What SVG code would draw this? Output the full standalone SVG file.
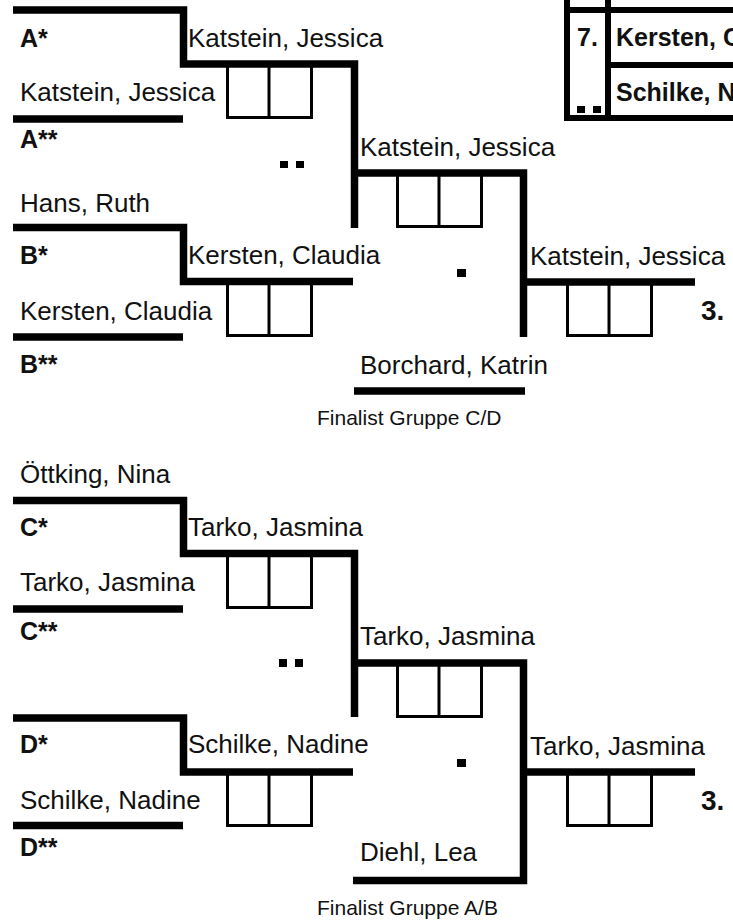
<svg xmlns="http://www.w3.org/2000/svg" xmlns:xlink="http://www.w3.org/1999/xlink" width="733" height="920" viewBox="0 0 733 920">
<style>
  .ln { fill: none; stroke: #000; stroke-width: 7.5; stroke-linecap: butt; stroke-linejoin: miter; }
  .tb { fill: none; stroke: #000; stroke-width: 6; }
  .bx { fill: none; stroke: #000; stroke-width: 3; }
  .nm { font-family: "Liberation Sans", Arial, sans-serif; font-size: 26px; fill: #111; }
  .lb { font-family: "Liberation Sans", Arial, sans-serif; font-size: 25px; font-weight: bold; fill: #111; }
  .pl { font-family: "Liberation Sans", Arial, sans-serif; font-size: 28px; font-weight: bold; fill: #111; }
  .sm { font-family: "Liberation Sans", Arial, sans-serif; font-size: 21px; fill: #111; }
  .dt { fill: #000; }
</style>
<defs>
  <g id="score">
    <rect class="bx" x="1.5" y="-4" width="84" height="53.5"/>
    <line class="bx" x1="43" y1="-4" x2="43" y2="51"/>
  </g>
</defs>
<rect width="733" height="920" fill="#fff"/>

<g id="connectors">
  <path class="ln" d="M13,10 H183.5 V64 H354.5 V228"/>
  <path class="ln" d="M13,119 H183"/>
  <path class="ln" d="M13,227.5 H183.5 V281.5 H353"/>
  <path class="ln" d="M13,337 H183"/>
  <path class="ln" d="M354.5,173 H523.5 V337"/>
  <path class="ln" d="M523.5,282 H695"/>
  <path class="ln" d="M354,391 H525"/>
  <path class="ln" d="M13,500.5 H183.5 V553.5 H354.5 V717"/>
  <path class="ln" d="M13,609 H183"/>
  <path class="ln" d="M13,718 H183.5 V772 H353"/>
  <path class="ln" d="M13,825.5 H183"/>
  <path class="ln" d="M354.5,663 H523.5 V880.5 H353"/>
  <path class="ln" d="M523.5,772 H695"/>
</g>

<g id="table">
  <path class="tb" d="M567,0 V121 M608,0 V121 M564,10 H740 M608,65 H740 M564,118 H740"/>
  <text class="lb" x="577" y="46">7.</text>
  <text class="lb" x="616" y="46">Kersten, Claudia</text>
  <text class="lb" x="616" y="101">Schilke, Nadine</text>
  <rect class="dt" x="577" y="106" width="8" height="7"/>
  <rect class="dt" x="593" y="106" width="8" height="7"/>
</g>

<g id="groupA">
  <text class="lb" x="20" y="47">A*</text>
  <text class="nm" x="20" y="101">Katstein, Jessica</text>
  <text class="lb" x="20" y="148">A**</text>
  <text class="nm" x="20" y="212">Hans, Ruth</text>
</g>
<g id="matchA">
  <text class="nm" x="188" y="47">Katstein, Jessica</text>
  <use xlink:href="#score" x="226" y="68"/>
  <rect class="dt" x="280" y="161" width="8" height="7"/>
  <rect class="dt" x="296" y="161" width="8" height="7"/>
</g>
<g id="groupB">
  <text class="lb" x="20" y="264">B*</text>
  <text class="nm" x="20" y="320">Kersten, Claudia</text>
  <text class="lb" x="20" y="373">B**</text>
</g>
<g id="matchB">
  <text class="nm" x="188" y="264">Kersten, Claudia</text>
  <use xlink:href="#score" x="226" y="286"/>
</g>
<g id="semiAB">
  <text class="nm" x="360" y="156">Katstein, Jessica</text>
  <use xlink:href="#score" x="396" y="177"/>
  <rect class="dt" x="457" y="269" width="9" height="8"/>
</g>
<g id="final1">
  <text class="nm" x="530" y="265">Katstein, Jessica</text>
  <use xlink:href="#score" x="566" y="286"/>
  <text class="pl" x="701" y="320">3.</text>
</g>
<g id="finalistCD">
  <text class="nm" x="360" y="374">Borchard, Katrin</text>
  <text class="sm" x="317" y="425">Finalist Gruppe C/D</text>
</g>

<g id="groupC">
  <text class="nm" x="20" y="483">Öttking, Nina</text>
  <text class="lb" x="20" y="536">C*</text>
  <text class="nm" x="20" y="591">Tarko, Jasmina</text>
  <text class="lb" x="20" y="640">C**</text>
</g>
<g id="matchC">
  <text class="nm" x="188" y="536">Tarko, Jasmina</text>
  <use xlink:href="#score" x="226" y="558"/>
  <rect class="dt" x="279" y="659" width="8" height="8"/>
  <rect class="dt" x="295" y="659" width="8" height="8"/>
</g>
<g id="groupD">
  <text class="lb" x="20" y="753">D*</text>
  <text class="nm" x="20" y="809">Schilke, Nadine</text>
  <text class="lb" x="20" y="856">D**</text>
</g>
<g id="matchD">
  <text class="nm" x="188" y="753">Schilke, Nadine</text>
  <use xlink:href="#score" x="226" y="776"/>
</g>
<g id="semiCD">
  <text class="nm" x="360" y="645">Tarko, Jasmina</text>
  <use xlink:href="#score" x="396" y="667"/>
  <rect class="dt" x="457" y="759" width="9" height="8"/>
</g>
<g id="final2">
  <text class="nm" x="530" y="755">Tarko, Jasmina</text>
  <use xlink:href="#score" x="566" y="776"/>
  <text class="pl" x="701" y="810">3.</text>
</g>
<g id="finalistAB">
  <text class="nm" x="360" y="861">Diehl, Lea</text>
  <text class="sm" x="317" y="915">Finalist Gruppe A/B</text>
</g>
</svg>
